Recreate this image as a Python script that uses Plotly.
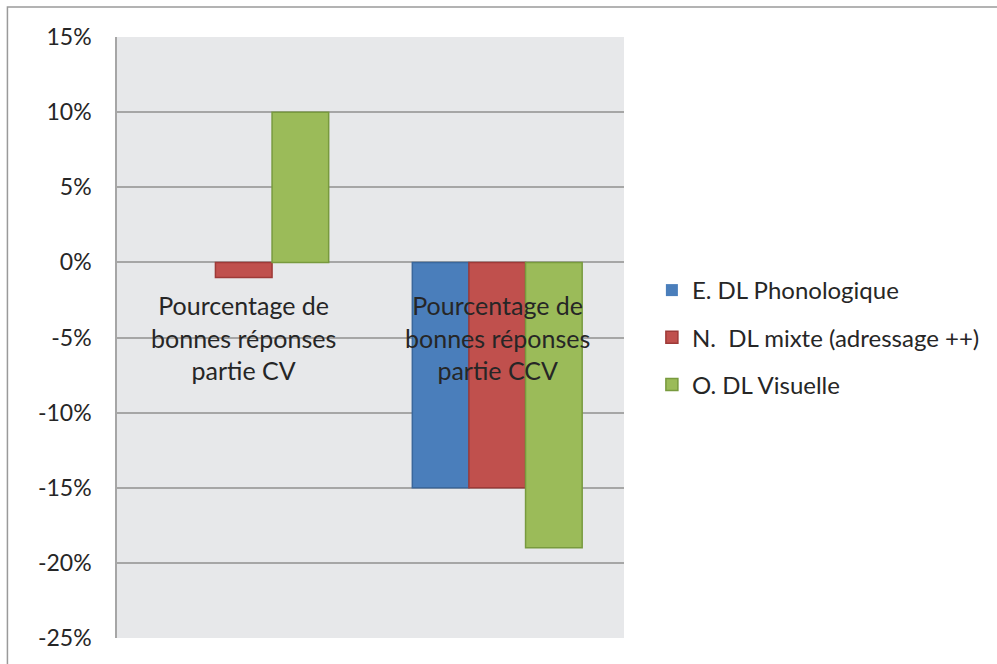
import plotly.graph_objects as go

# Categories (shown as in-plot labels) and series values (fractions)
categories = ["Pourcentage de<br>bonnes réponses<br>partie CV",
              "Pourcentage de<br>bonnes réponses<br>partie CCV"]
series_names = ["E. DL Phonologique", "N.  DL mixte (adressage ++)", "O. DL Visuelle"]
series_values = [
    [0.00, -0.15],
    [-0.01, -0.15],
    [0.10, -0.19],
]
fill_colors = ["#4A7EBB", "#C0504D", "#9BBB59"]
edge_colors = ["#3A679C", "#9E3A38", "#789A3E"]

tick_vals = [0.15, 0.10, 0.05, 0.0, -0.05, -0.10, -0.15, -0.20, -0.25]
tick_text = ["15%", "10%", "5%", "0%", "-5%", "-10%", "-15%", "-20%", "-25%"]

W, H = 997, 664
ML, MR, MT, MB = 117, 371, 37, 26
pw, ph = W - ML - MR, H - MT - MB

FONT = "Lato, 'Open Sans', sans-serif"
GRID = "#A6A6A6"
TEXT = "#262626"

fig = go.Figure()
xs = [0, 1]
for name, vals, fc, ec in zip(series_names, series_values, fill_colors, edge_colors):
    # zero-height bars get no outline so they stay invisible
    widths = [0 if v == 0 else 1.5 for v in vals]
    fig.add_trace(go.Bar(
        x=xs, y=vals, name=name, legendgroup=name,
        marker=dict(color=fc, line=dict(color=ec, width=widths)),
    ))

# Category labels sit inside the plot, centred on the -5% gridline
for i, cat in enumerate(categories):
    fig.add_annotation(x=i, y=-0.05, xref="x", yref="y", text=cat,
                       showarrow=False, yanchor="middle", xanchor="center",
                       font=dict(family=FONT, size=25, color=TEXT))

def px_to_paper_x(px):
    return (px - ML) / pw

def px_to_paper_y(py):
    return (H - MB - py) / ph

# Outer chart frame
fig.add_shape(type="rect", xref="paper", yref="paper",
              x0=px_to_paper_x(7), x1=px_to_paper_x(1010),
              y0=px_to_paper_y(680), y1=px_to_paper_y(7),
              line=dict(color="#9A9A9A", width=1.5), fillcolor="rgba(0,0,0,0)",
              layer="below")

fig.update_layout(
    width=W, height=H,
    margin=dict(l=ML, r=MR, t=MT, b=MB),
    paper_bgcolor="white", plot_bgcolor="#E7E8EA",
    barmode="group", bargap=0.33, bargroupgap=0,
    font=dict(family=FONT, size=20, color=TEXT),
    showlegend=True,
    legend=dict(x=px_to_paper_x(654), y=px_to_paper_y(268), xanchor="left", yanchor="top",
                traceorder="grouped", tracegroupgap=13,
                font=dict(family=FONT, size=24, color=TEXT),
                bgcolor="rgba(0,0,0,0)", itemwidth=30),
    xaxis=dict(range=[-0.5, 1.5], showticklabels=False, showgrid=False,
               zeroline=False, showline=False, fixedrange=True),
    yaxis=dict(range=[-0.25, 0.15], tickvals=tick_vals, ticktext=tick_text,
               showgrid=True, gridcolor=GRID, gridwidth=1.5,
               zeroline=True, zerolinecolor=GRID, zerolinewidth=1.5,
               showline=True, linecolor=GRID, linewidth=1.5,
               ticks="", ticklabelstandoff=19,
               tickfont=dict(family=FONT, size=23, color=TEXT)),
)

fig.write_html("out.html")
